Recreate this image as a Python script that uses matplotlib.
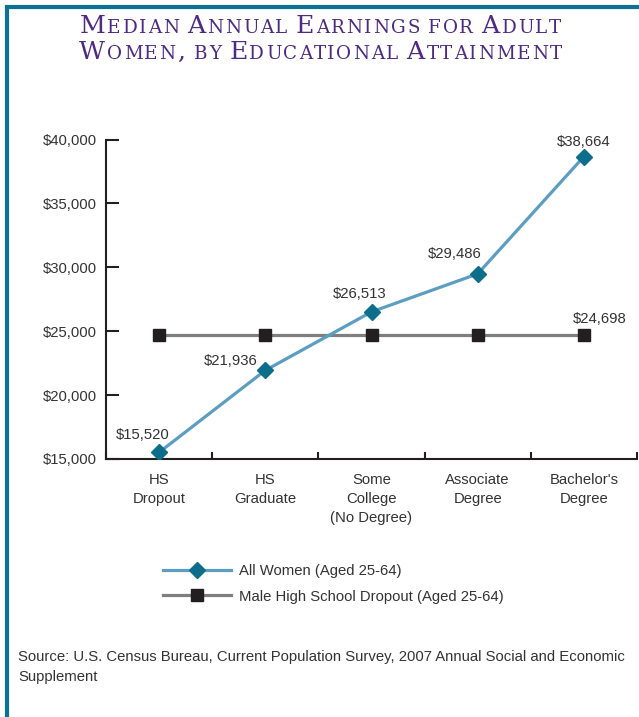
import matplotlib
matplotlib.use("Agg")
import matplotlib.pyplot as plt
from matplotlib.lines import Line2D
from matplotlib.font_manager import FontProperties

# Data
categories = ["HS\nDropout", "HS\nGraduate", "Some\nCollege\n(No Degree)",
              "Associate\nDegree", "Bachelor's\nDegree"]
women = [15520, 21936, 26513, 29486, 38664]
male_dropout = [24698, 24698, 24698, 24698, 24698]
y_ticks = [15000, 20000, 25000, 30000, 35000, 40000]
series_names = ["All Women (Aged 25-64)", "Male High School Dropout (Aged 25-64)"]
title_lines = ["Median Annual Earnings for Adult",
               "Women, by Educational Attainment"]
source = ("Source: U.S. Census Bureau, Current Population Survey, 2007 Annual Social and Economic\n"
          "Supplement")

# label offsets (pixels, centre of text relative to the point)
women_offsets = [(-16, 17), (-35, 9), (-12, 18), (-23, 20), (0, 15)]
male_label_offset = (16, 16)

W, H = 639, 717
FS = 10.7
TEXT_COL = "#333333"
BLUE_LINE = "#5b9ec2"
TEAL = "#0d6e8c"
GRAY = "#7f7f7f"
BLACK = "#231f20"
PURPLE = "#4e2a84"

plt.rcParams["font.family"] = ["Liberation Sans", "DejaVu Sans"]

fig = plt.figure(figsize=(W / 100, H / 100), dpi=100)
fig.patch.set_facecolor("white")

# teal frame on top and left
fig.add_artist(Line2D([5 / W, 1], [1 - 7 / H, 1 - 7 / H], transform=fig.transFigure,
                      color="#0b7391", lw=3.0, solid_capstyle="butt"))
fig.add_artist(Line2D([7 / W, 7 / W], [0, 1 - 5 / H], transform=fig.transFigure,
                      color="#0b7391", lw=3.0, solid_capstyle="butt"))

ax = fig.add_axes([106 / W, 1 - 459 / H, (637 - 106) / W, (459 - 139.5) / H])
x = list(range(len(categories)))

ax.plot(x, male_dropout, color=GRAY, lw=2.3, marker="s", ms=9,
        mfc=BLACK, mec=BLACK, label=series_names[1], zorder=3)
ax.plot(x, women, color=BLUE_LINE, lw=2.3, marker="D", ms=8.5,
        mfc=TEAL, mec=TEAL, label=series_names[0], zorder=4)

ax.set_xlim(-0.5, len(categories) - 0.5)
ax.set_ylim(y_ticks[0], y_ticks[-1])

for s in ["top", "right"]:
    ax.spines[s].set_visible(False)
for s in ["left", "bottom"]:
    ax.spines[s].set_linewidth(1.5)
    ax.spines[s].set_color(BLACK)

ax.set_yticks(y_ticks)
ax.set_yticklabels([f"${v:,}" for v in y_ticks])
ax.tick_params(axis="y", direction="in", length=9, width=1.5, pad=6.5,
               labelsize=FS, labelcolor=TEXT_COL, color=BLACK)

ax.set_xticks([i - 0.5 for i in range(len(categories) + 1)])
ax.set_xticklabels([])
ax.tick_params(axis="x", which="major", direction="in", length=5, width=1.5, color=BLACK)
ax.set_xticks(x, minor=True)
ax.set_xticklabels(categories, minor=True, linespacing=1.45)
ax.tick_params(axis="x", which="minor", length=0, pad=10, labelsize=FS, labelcolor=TEXT_COL)

for xi, v, (dx, dy) in zip(x, women, women_offsets):
    ax.annotate(f"${v:,}", (xi, v), xytext=(dx * 0.72, dy * 0.72),
                textcoords="offset points", ha="center", va="center",
                fontsize=FS, color=TEXT_COL)
ax.annotate(f"${male_dropout[-1]:,}", (x[-1], male_dropout[-1]),
            xytext=(male_label_offset[0] * 0.72, male_label_offset[1] * 0.72),
            textcoords="offset points", ha="center", va="center",
            fontsize=FS, color=TEXT_COL)

handles, labels = ax.get_legend_handles_labels()
leg = ax.legend(handles[::-1], labels[::-1], loc="upper left",
                bbox_to_anchor=(157 / W, 1 - 558 / H), bbox_transform=fig.transFigure,
                frameon=False, fontsize=FS, handlelength=4.6, handletextpad=0.55,
                labelspacing=0.78, borderaxespad=0)
for t in leg.get_texts():
    t.set_color(TEXT_COL)

fig.text(18 / W, 1 - 650 / H, source, fontsize=FS, color=TEXT_COL,
         va="top", ha="left", linespacing=1.5)

# small-caps title, placed letter by letter with a little tracking
renderer = fig.canvas.get_renderer()
big = FontProperties(family=["DejaVu Serif"], size=18.2)
small = FontProperties(family=["DejaVu Serif"], size=13.2)
TRACK = 1.7


def glyphs_of(text):
    out = []
    for ch in text:
        if ch == " ":
            out.append((" ", None))
        elif ch.isupper() or not ch.isalpha():
            out.append((ch, big))
        else:
            out.append((ch.upper(), small))
    return out


baselines = [33, 59]
for line, base in zip(title_lines, baselines):
    items = []
    total = 0
    for ch, prop in glyphs_of(line):
        if prop is None:
            total += 0.26 * big.get_size_in_points() * 100 / 72
            continue
        w, h, d = renderer.get_text_width_height_descent(ch, prop, ismath=False)
        items.append((total, ch, prop))
        total += w + TRACK
    total -= TRACK
    x0 = (W - total) / 2 + 1
    for off, ch, prop in items:
        fig.text((x0 + off) / W, 1 - base / H, ch, fontproperties=prop,
                 color=PURPLE, va="baseline", ha="left")

fig.savefig("out.png", dpi=100, facecolor="white")
